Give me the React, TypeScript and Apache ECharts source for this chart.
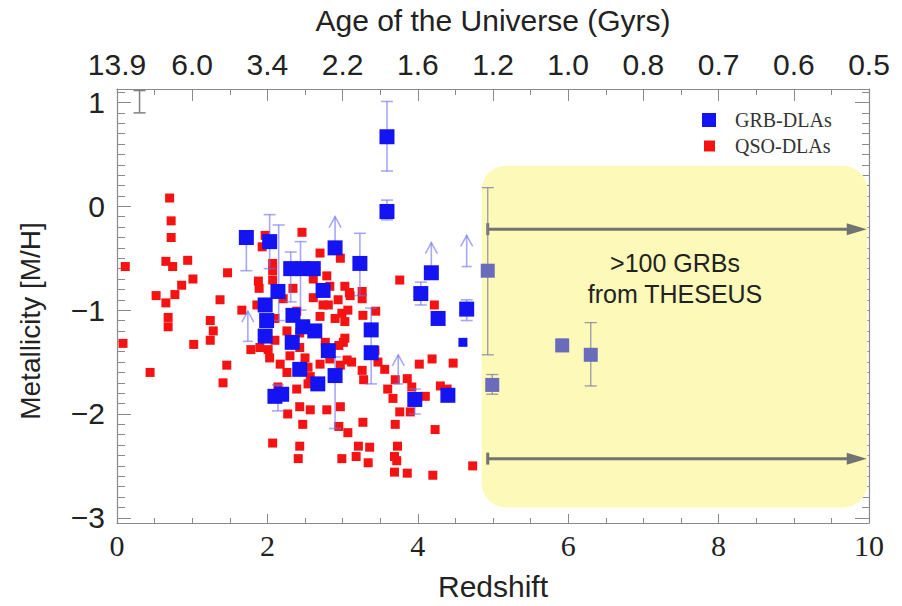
import React, { useEffect, useRef } from "react";
import * as echarts from "echarts";

// QSO-DLA metallicities: [redshift, [M/H]]
const QSO_DLAS: [number, number][] = [
  [0.11, -0.58], [0.08, -1.32], [0.44, -1.6], [0.52, -0.86], [0.7, 0.08], [0.72, -0.14], [0.72, -0.3],
  [0.65, -0.53], [0.74, -0.58], [0.94, -0.52], [1.01, -0.7], [0.86, -0.76], [0.77, -0.85], [0.65, -0.93],
  [0.68, -1.07], [0.68, -1.16], [1.47, -0.64], [1.37, -0.9], [1.24, -1.1], [1.28, -1.2], [1.24, -1.29],
  [1.02, -1.33], [1.46, -1.53], [1.41, -1.7], [1.66, -1.0], [1.78, -1.38],
  [1.86, -0.95], [1.88, -0.72], [1.89, -0.79], [1.97, -0.28], [1.93, -0.39], [2.07, -0.55], [2.07, -0.62],
  [2.07, -0.71], [2.34, -0.79], [2.46, -0.25], [2.61, -0.7], [2.7, -0.45], [2.79, -0.67], [2.83, -0.77],
  [2.61, -0.88], [2.94, -0.9], [2.81, -0.95], [2.97, -0.5], [3.03, -0.77], [3.1, -0.86], [3.26, -0.82],
  [3.09, -0.83], [2.9, -1.08], [3.03, -1.11], [3.07, -1.0], [3.27, -1.05], [3.44, -1.01], [3.26, -0.89],
  [2.99, -1.03], [2.74, -0.95],
  [1.9, -1.36], [2.01, -1.38], [2.1, -1.29], [2.26, -1.2], [2.3, -1.44], [2.17, -1.52], [2.03, -1.46],
  [2.43, -1.36], [2.5, -1.46], [2.54, -1.55], [2.57, -1.64], [2.26, -1.6], [2.77, -1.31], [2.83, -1.47],
  [2.97, -1.53], [2.7, -1.52], [3.03, -1.27], [2.54, -1.71], [2.39, -1.76], [2.14, -1.74], [2.43, -1.93],
  [2.57, -1.96], [2.79, -1.96], [2.97, -1.93], [2.27, -2.0], [2.47, -2.1], [2.07, -2.28], [2.43, -2.31],
  [2.41, -2.43], [2.99, -2.43], [2.95, -2.12], [3.07, -2.18], [3.21, -2.31], [3.18, -2.41], [3.36, -2.32],
  [3.34, -2.47], [3.27, -2.08], [3.06, -1.48], [3.12, -1.5], [3.26, -1.58], [3.28, -1.67], [3.01, -1.31],
  [2.95, -1.34], [3.43, -1.39], [3.47, -1.5], [3.56, -1.57],
  [3.76, -0.71], [4.22, -0.95], [4.02, -1.52], [4.19, -1.47], [4.47, -1.51], [3.7, -1.67], [3.86, -1.66],
  [3.92, -1.74], [3.6, -1.76], [3.67, -1.85], [4.3, -1.73], [4.39, -1.76], [4.1, -1.83], [3.76, -1.98],
  [3.9, -1.98], [3.7, -2.1], [4.23, -2.15], [3.73, -2.31], [3.69, -2.41], [3.72, -2.45], [3.69, -2.56],
  [3.86, -2.57], [4.2, -2.59], [4.73, -2.5],
  [2.21, -0.89], [2.39, -1.01], [2.7, -1.06], [2.1, -1.08], [2.43, -1.22],
];

// GRB-DLA metallicities: [redshift, [M/H]]
const GRB_DLAS: [number, number][] = [
  [1.72, -0.3], [2.03, -0.34], [2.14, -0.82], [2.31, -0.6], [2.47, -0.6], [2.61, -0.6], [2.9, -0.4],
  [2.74, -0.81], [3.59, 0.67], [3.59, -0.05], [3.23, -0.55], [4.18, -0.64], [4.04, -0.84], [4.65, -0.99],
  [4.27, -1.08], [3.38, -1.19], [3.38, -1.41], [3.96, -1.86], [4.4, -1.82], [1.97, -0.95], [1.99, -1.1],
  [1.97, -1.25], [2.34, -1.05], [2.47, -1.16], [2.63, -1.2], [2.33, -1.31], [2.81, -1.39], [2.43, -1.57],
  [2.9, -1.63], [2.67, -1.71], [2.1, -1.83], [2.19, -1.81],
];
const GRB_DLAS_FAINT: [number, number][] = [[4.6, -1.31]];

// [redshift, lower, upper]
const GRB_ERRORS: [number, number, number][] = [
  [1.72, -0.62, -0.3], [2.03, -0.6, -0.08], [2.15, -1.1, -0.18], [2.31, -0.92, -0.44], [2.44, -1.0, -0.34],
  [3.59, 0.34, 1.01], [3.59, -0.13, 0.06], [3.23, -0.86, -0.26], [4.04, -0.95, -0.73], [4.65, -1.1, -0.9],
  [3.38, -1.71, -0.98], [3.96, -2.0, -1.76], [2.9, -2.14, -1.45], [2.14, -1.97, -1.72],
];

// lower limits: [redshift, from, to]
const GRB_LIMITS: [number, number, number][] = [
  [2.9, -0.4, -0.1], [4.18, -0.64, -0.35], [4.65, -0.58, -0.28], [3.74, -1.71, -1.43], [1.74, -1.3, -1.01],
];

// simulated high-redshift GRB-DLAs
const THESEUS_SIM: [number, number][] = [[4.93, -0.62], [4.99, -1.72], [5.92, -1.34], [6.3, -1.43]];
const THESEUS_ERRORS: [number, number, number][] = [
  [4.93, -1.43, 0.18], [4.99, -1.81, -1.62], [5.92, -1.39, -1.28], [6.3, -1.73, -1.12],
];

// [z start, z end, [M/H]]
const FUTURE_ARROWS: [number, number, number][] = [[4.93, 9.97, -0.22], [4.93, 9.97, -2.43]];
// [z left, top, z right, bottom]
const FORECAST_REGION: [number, number, number, number][] = [[4.85, 0.39, 9.98, -2.9]];
// typical uncertainty
const TYPICAL_ERROR: [number, number, number][] = [[0.3, 0.9, 1.115]];

const X_LABELS = [0, 2, 4, 6, 8, 10];
const AGE_LABELS = ["13.9", "6.0", "3.4", "2.2", "1.6", "1.2", "1.0", "0.8", "0.7", "0.6", "0.5"];
const Y_TICKS = [-3, -2, -1, 0, 1];
const Y_MINOR: number[] = [];
for (let k = -30; k <= 11; k++) Y_MINOR.push(k / 10);

const Y_MIN = -3.05;
const Y_MAX = 1.13;

const SANS = "'Liberation Sans', Arial, sans-serif";
const SERIF = "'Liberation Serif', 'Times New Roman', serif";
const AXIS_GRAY = "#8a8a8a";

function errorBars(color: string, width: number, capHalf: number) {
  return (params: any, api: any) => {
    const x = api.value(0);
    const p0 = api.coord([x, api.value(1)]);
    const p1 = api.coord([x, api.value(2)]);
    const style = { stroke: color, lineWidth: width };
    return {
      type: "group",
      children: [
        { type: "line", shape: { x1: p0[0], y1: p0[1], x2: p1[0], y2: p1[1] }, style },
        { type: "line", shape: { x1: p0[0] - capHalf, y1: p0[1], x2: p0[0] + capHalf, y2: p0[1] }, style },
        { type: "line", shape: { x1: p1[0] - capHalf, y1: p1[1], x2: p1[0] + capHalf, y2: p1[1] }, style },
      ],
    };
  };
}

function limitArrows(params: any, api: any) {
  const x = api.value(0);
  const p0 = api.coord([x, api.value(1)]);
  const p1 = api.coord([x, api.value(2)]);
  const style = { stroke: "rgba(110,110,245,0.6)", lineWidth: 1.6, fill: "none" };
  return {
    type: "group",
    children: [
      { type: "line", shape: { x1: p0[0], y1: p0[1], x2: p1[0], y2: p1[1] }, style },
      { type: "line", shape: { x1: p0[0] - 5, y1: p0[1], x2: p0[0] + 5, y2: p0[1] }, style },
      {
        type: "polyline",
        shape: { points: [[p1[0] - 6, p1[1] + 11], [p1[0], p1[1]], [p1[0] + 6, p1[1] + 11]] },
        style,
      },
    ],
  };
}

function futureArrows(params: any, api: any) {
  const y = api.value(2);
  const p0 = api.coord([api.value(0), y]);
  const p1 = api.coord([api.value(1), y]);
  const color = "#737373";
  return {
    type: "group",
    children: [
      { type: "line", shape: { x1: p0[0], y1: p0[1], x2: p1[0] - 10, y2: p1[1] }, style: { stroke: color, lineWidth: 3 } },
      { type: "line", shape: { x1: p0[0], y1: p0[1] - 6, x2: p0[0], y2: p0[1] + 6 }, style: { stroke: color, lineWidth: 3 } },
      {
        type: "polygon",
        shape: { points: [[p1[0], p1[1]], [p1[0] - 20, p1[1] - 6], [p1[0] - 20, p1[1] + 6]] },
        style: { fill: color },
      },
    ],
  };
}

function regionBox(params: any, api: any) {
  const a = api.coord([api.value(0), api.value(1)]);
  const b = api.coord([api.value(2), api.value(3)]);
  return {
    type: "rect",
    shape: { x: a[0], y: a[1], width: b[0] - a[0], height: b[1] - a[1], r: 24 },
    style: { fill: "#fdf9b9" },
  };
}

const yLabel = (v: number) => (v < 0 ? "\u2212" + Math.abs(v) : String(v));

export default function App() {
  const ref = useRef<HTMLDivElement>(null);

  useEffect(() => {
    const chart = echarts.init(ref.current!, null, { renderer: "svg" });
    const yCommon = { type: "value", min: Y_MIN, max: Y_MAX, splitLine: { show: false } };
    chart.setOption({
      animation: false,
      backgroundColor: "#ffffff",
      grid: { left: 117, right: 33, top: 87, bottom: 79 },
      legend: [
        {
          data: ["GRB-DLAs"],
          left: 702,
          top: 110,
          padding: 0,
          icon: "rect",
          itemWidth: 14,
          itemHeight: 14,
          selectedMode: false,
          textStyle: { fontFamily: SERIF, fontSize: 20, color: "#333", padding: [0, 0, 0, 14] },
        },
        {
          data: ["QSO-DLAs"],
          left: 704,
          top: 136,
          padding: 0,
          icon: "rect",
          itemWidth: 11,
          itemHeight: 11,
          selectedMode: false,
          textStyle: { fontFamily: SERIF, fontSize: 20, color: "#333", padding: [0, 0, 0, 15] },
        },
      ],
      xAxis: [
        {
          type: "value",
          position: "bottom",
          min: 0,
          max: 10,
          interval: 2,
          name: "Redshift",
          nameLocation: "middle",
          nameGap: 48,
          nameTextStyle: { fontFamily: SANS, fontSize: 30, color: "#222" },
          axisLine: { onZero: false, lineStyle: { color: AXIS_GRAY, width: 1.2 } },
          axisTick: { inside: true, length: 9, lineStyle: { color: AXIS_GRAY } },
          minorTick: { show: true, splitNumber: 4, length: 5, lineStyle: { color: AXIS_GRAY } },
          splitLine: { show: false },
          axisLabel: {
            customValues: X_LABELS,
            margin: 7,
            fontFamily: SERIF,
            fontSize: 30,
            color: "#222",
          },
        },
        {
          type: "value",
          position: "top",
          min: 0,
          max: 10,
          interval: 1,
          name: "Age of the Universe (Gyrs)",
          nameLocation: "middle",
          nameGap: 54,
          nameTextStyle: { fontFamily: SANS, fontSize: 30, color: "#222" },
          axisLine: { onZero: false, lineStyle: { color: AXIS_GRAY, width: 1.2 } },
          axisTick: { inside: true, length: 12, lineStyle: { color: AXIS_GRAY } },
          minorTick: { show: true, splitNumber: 2, length: 6, lineStyle: { color: AXIS_GRAY } },
          splitLine: { show: false },
          axisLabel: {
            margin: 10,
            fontFamily: SANS,
            fontSize: 30,
            color: "#222",
            formatter: (v: number) => AGE_LABELS[Math.round(v)] ?? "",
          },
        },
      ],
      yAxis: [
        {
          ...yCommon,
          position: "left",
          name: "Metallicity [M/H]",
          nameLocation: "middle",
          nameGap: 73,
          nameTextStyle: { fontFamily: SANS, fontSize: 28, color: "#222", padding: [0, 30, 0, 0] },
          axisLine: { show: true, onZero: false, lineStyle: { color: AXIS_GRAY, width: 1.2 } },
          axisTick: { show: true, inside: true, length: 14, customValues: Y_TICKS, lineStyle: { color: AXIS_GRAY } },
          axisLabel: {
            customValues: Y_TICKS,
            margin: 12,
            fontFamily: SANS,
            fontSize: 30,
            color: "#222",
            formatter: yLabel,
          },
        },
        {
          ...yCommon,
          position: "left",
          axisLine: { show: false, onZero: false },
          axisTick: { show: true, inside: true, length: 8, customValues: Y_MINOR, lineStyle: { color: AXIS_GRAY } },
          axisLabel: { show: false },
        },
        {
          ...yCommon,
          position: "right",
          axisLine: { show: true, onZero: false, lineStyle: { color: AXIS_GRAY, width: 1.2 } },
          axisTick: { show: true, inside: true, length: 14, customValues: Y_TICKS, lineStyle: { color: AXIS_GRAY } },
          axisLabel: { show: false },
        },
        {
          ...yCommon,
          position: "right",
          axisLine: { show: false, onZero: false },
          axisTick: { show: true, inside: true, length: 7, customValues: Y_MINOR, lineStyle: { color: AXIS_GRAY } },
          axisLabel: { show: false },
        },
      ],
      series: [
        {
          type: "custom",
          renderItem: regionBox,
          data: FORECAST_REGION,
          encode: { x: [0, 2], y: [1, 3] },
          silent: true,
          z: 1,
        },
        {
          type: "custom",
          renderItem: futureArrows,
          data: FUTURE_ARROWS,
          encode: { x: [0, 1], y: 2 },
          silent: true,
          z: 2,
        },
        {
          type: "custom",
          renderItem: errorBars("#808080", 1.5, 6),
          data: TYPICAL_ERROR,
          encode: { x: 0, y: [1, 2] },
          silent: true,
          z: 2,
        },
        {
          name: "QSO-DLAs",
          type: "scatter",
          data: QSO_DLAS,
          symbol: "rect",
          symbolSize: 9,
          itemStyle: { color: "#f51212", opacity: 1 },
          z: 3,
        },
        {
          type: "custom",
          renderItem: errorBars("rgba(110,110,245,0.6)", 1.6, 6),
          data: GRB_ERRORS,
          encode: { x: 0, y: [1, 2] },
          silent: true,
          z: 4,
        },
        {
          type: "custom",
          renderItem: limitArrows,
          data: GRB_LIMITS,
          encode: { x: 0, y: [1, 2] },
          silent: true,
          z: 4,
        },
        {
          name: "GRB-DLAs",
          type: "scatter",
          data: [
            ...GRB_DLAS.map((d) => ({ value: d })),
            ...GRB_DLAS_FAINT.map((d) => ({ value: d, symbolSize: 9 })),
          ],
          symbol: "rect",
          symbolSize: 15,
          itemStyle: { color: "#1414f2", opacity: 1 },
          z: 5,
        },
        {
          type: "custom",
          renderItem: errorBars("rgba(120,120,160,0.75)", 1.3, 6),
          data: THESEUS_ERRORS,
          encode: { x: 0, y: [1, 2] },
          silent: true,
          z: 5,
        },
        {
          name: "THESEUS",
          type: "scatter",
          data: THESEUS_SIM,
          symbol: "rect",
          symbolSize: 14,
          itemStyle: { color: "#6b6bbb", opacity: 1 },
          z: 6,
        },
      ],
      graphic: [
        {
          type: "text",
          x: 675,
          y: 263,
          z: 10,
          style: {
            text: ">100 GRBs",
            font: "25px 'Liberation Sans', Arial, sans-serif",
            fill: "#222",
            align: "center",
            verticalAlign: "middle",
          },
        },
        {
          type: "text",
          x: 675,
          y: 294,
          z: 10,
          style: {
            text: "from THESEUS",
            font: "25px 'Liberation Sans', Arial, sans-serif",
            fill: "#222",
            align: "center",
            verticalAlign: "middle",
          },
        },
      ],
    });
    return () => chart.dispose();
  }, []);

  return (
    <div
      ref={ref}
      style={{ position: "fixed", left: 0, top: 0, width: 902, height: 606, background: "#fff" }}
    />
  );
}
